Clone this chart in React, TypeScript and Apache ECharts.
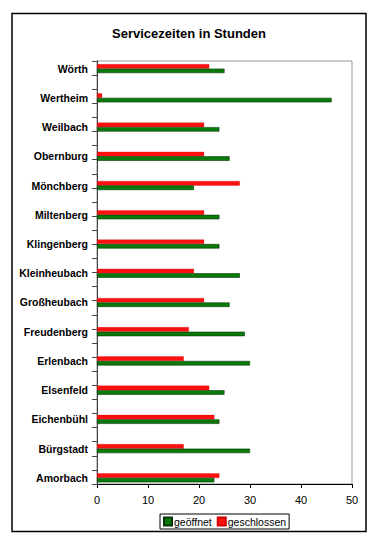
import React, { useEffect, useRef } from "react";
import * as echarts from "echarts";

const categories = [
  "Amorbach", "Bürgstadt", "Eichenbühl", "Elsenfeld", "Erlenbach",
  "Freudenberg", "Großheubach", "Kleinheubach", "Klingenberg", "Miltenberg",
  "Mönchberg", "Obernburg", "Weilbach", "Wertheim", "Wörth",
];
const geoeffnet = [23, 30, 24, 25, 30, 29, 26, 28, 24, 24, 19, 26, 24, 46, 25];
const geschlossen = [24, 17, 23, 22, 17, 18, 21, 19, 21, 21, 28, 21, 21, 1, 22];
const xTicks = { min: 0, max: 50, interval: 10 };

export default function App() {
  const ref = useRef<HTMLDivElement>(null);
  useEffect(() => {
    if (!ref.current) return;
    const chart = echarts.init(ref.current, null, { renderer: "svg" });
    const font = "Liberation Sans, Arial, sans-serif";
    chart.setOption({
      animation: false,
      backgroundColor: "#fff",
      textStyle: { fontFamily: font },
      title: {
        text: "Servicezeiten in Stunden",
        left: "center",
        top: 22,
        textStyle: { fontFamily: font, fontSize: 13, fontWeight: "bold", color: "#000" },
      },
      legend: {
        data: ["geöffnet", "geschlossen"],
        left: 160,
        top: 514,
        itemWidth: 8,
        itemHeight: 8,
        itemGap: 5,
        padding: [2, 3, 2, 3],
        borderColor: "#000",
        borderWidth: 1,
        icon: "rect",
        textStyle: { fontFamily: font, fontSize: 10.5, color: "#000", padding: [0, 0, 0, -3] },
      },
      grid: [
        { left: 97, top: 61, width: 255, height: 423, show: true, borderColor: "#999", borderWidth: 1, backgroundColor: "#fff" },
        { left: 97, top: 54, width: 255, height: 438.5 },
      ],
      xAxis: [
        {
          gridIndex: 0,
          type: "value",
          min: xTicks.min,
          max: xTicks.max,
          interval: xTicks.interval,
          axisLine: { show: true, lineStyle: { color: "#000", width: 1 } },
          axisTick: { show: true, length: 4, lineStyle: { color: "#000" } },
          axisLabel: { fontFamily: font, fontSize: 11, color: "#000", margin: 10 },
          splitLine: { show: false },
        },
        { gridIndex: 1, type: "value", min: xTicks.min, max: xTicks.max, show: false },
      ],
      yAxis: [
        {
          gridIndex: 0,
          type: "value",
          min: 0,
          max: 30,
          interval: 1,
          axisLine: { show: true, lineStyle: { color: "#444", width: 1 } },
          axisTick: { show: true, length: 5, lineStyle: { color: "#444" } },
          axisLabel: { show: false },
          splitLine: { show: false },
        },
        {
          gridIndex: 1,
          type: "category",
          data: categories,
          axisLine: { show: false },
          axisTick: { show: false },
          axisLabel: { fontFamily: font, fontSize: 10.5, fontWeight: "bold", color: "#000", margin: 9 },
        },
      ],
      series: [
        {
          name: "geschlossen",
          type: "bar",
          xAxisIndex: 1,
          yAxisIndex: 1,
          data: geschlossen,
          barWidth: 4.5,
          barGap: "0%",
          itemStyle: { color: "#ff1010", borderColor: "#d00000", borderWidth: 0.3 },
        },
        {
          name: "geöffnet",
          type: "bar",
          xAxisIndex: 1,
          yAxisIndex: 1,
          data: geoeffnet,
          barWidth: 4.5,
          barGap: "0%",
          itemStyle: { color: "#0a7a0a", borderColor: "#053805", borderWidth: 0.6 },
        },
      ],
      graphic: [
        {
          type: "rect",
          shape: { x: 12, y: 13.5, width: 354, height: 518 },
          style: { fill: "none", stroke: "#000", lineWidth: 1.5 },
          silent: true,
        },
      ],
    });
    return () => chart.dispose();
  }, []);
  return (
    <div
      ref={ref}
      style={{ position: "fixed", left: 0, top: 0, width: 378, height: 544, background: "#fff" }}
    />
  );
}
